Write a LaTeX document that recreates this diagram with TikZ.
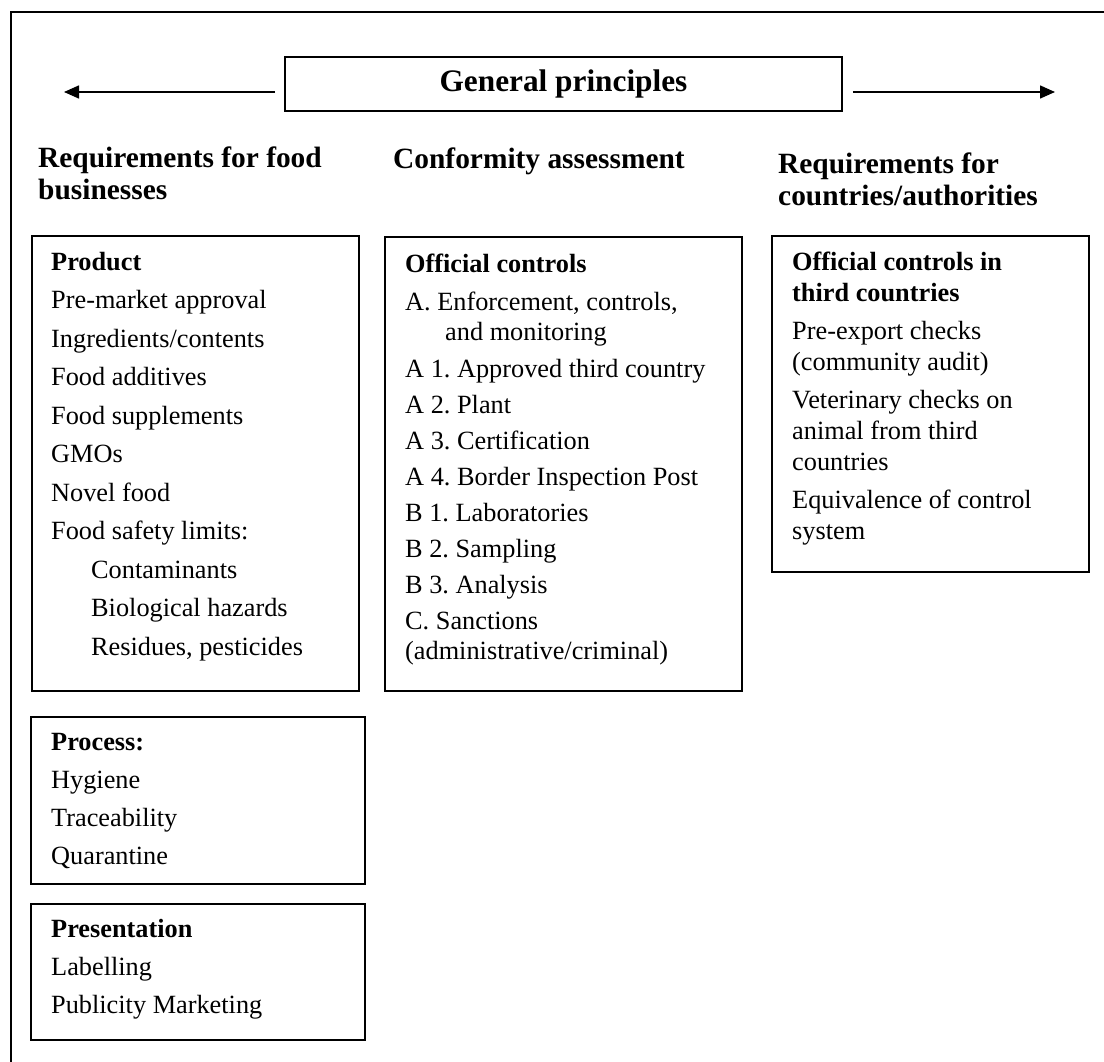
\documentclass[tikz,border=0pt]{standalone}
\usepackage{fontspec}
\setmainfont{Liberation Serif}
\usetikzlibrary{arrows.meta}
\begin{document}
\frenchspacing
\begin{tikzpicture}[x=1pt,y=-1pt,
  txt/.style={anchor=base west, inner sep=0pt, font=\fontsize{26.3}{30}\selectfont},
  ttl/.style={anchor=base west, inner sep=0pt, font=\fontsize{26.3}{30}\selectfont\bfseries},
  hd/.style={anchor=base west, inner sep=0pt, font=\fontsize{29.4}{32}\selectfont\bfseries},
  box/.style={draw, line width=1.6pt, anchor=north west, inner sep=0pt},
  arr/.style={line width=1.5pt, -{Triangle[length=15pt,width=13pt]}}]
\useasboundingbox (0,0) rectangle (1104,1062);
% outer frame
\draw[line width=1.6pt] (11,1062) -- (11,12) -- (1104,12);
% title
\node[draw, line width=1.6pt, minimum width=557pt, minimum height=54pt, inner sep=0pt,
  font=\fontsize{31.3}{32}\selectfont\bfseries] (gp) at (563.5,84) {General principles};
\coordinate (la) at (64,92);
\coordinate (ra) at (1055,92);
\draw[arr, shorten <=9pt] (gp.west |- la) -- (la);
\draw[arr, shorten <=10pt] (gp.east |- ra) -- (ra);
% headings
\node[hd] (h1a) at (38,168) {Requirements for food};
\node[hd] (h1b) at (38,200) {businesses};
\node[hd] (h2) at (393,169) {Conformity assessment};
\node[hd] (h3a) at (778,174) {Requirements for};
\node[hd] (h3b) at (778,206) {countries/authorities};
% product box
\node[box, minimum width=327pt, minimum height=455pt] (prodbox) at (31,235) {};
\node[ttl] (prodt) at (51,270) {Product};
\foreach \t [count=\i] in {Pre-market approval, Ingredients/contents, Food additives, Food supplements, GMOs, Novel food, Food safety limits:}
  \node[txt] (prod\i) at (51,{270+38.5*\i}) {\t};
\foreach \t [count=\i from 8] in {Contaminants, Biological hazards, {Residues, pesticides}}
  \node[txt] (prod\i) at (91,{270+38.5*\i}) {\t};
% process box
\node[box, minimum width=334pt, minimum height=167pt] (procbox) at (30,716) {};
\node[ttl] (proct) at (51,750) {Process:};
\node[txt] (proc1) at (51,788) {Hygiene};
\node[txt] (proc2) at (51,826) {Traceability};
\node[txt] (proc3) at (51,864) {Quarantine};
% presentation box
\node[box, minimum width=334pt, minimum height=136pt] (presbox) at (30,903) {};
\node[ttl] (prest) at (51,937) {Presentation};
\node[txt] (pres1) at (51,975) {Labelling};
\node[txt] (pres2) at (51,1013) {Publicity Marketing};
% middle box
\node[box, minimum width=357pt, minimum height=454pt] (midbox) at (384,236) {};
\node[ttl] (midt) at (405,272) {Official controls};
\node[txt] (mid1) at (405,310) {A. Enforcement, controls,};
\node[txt] (mid1b) at (445,340) {and monitoring};
\node[txt] (mid2) at (405,377) {A 1. Approved third country};
\node[txt] (mid3) at (405,413) {A 2. Plant};
\node[txt] (mid4) at (405,449) {A 3. Certification};
\node[txt] (mid5) at (405,485) {A 4. Border Inspection Post};
\node[txt] (mid6) at (405,521) {B 1. Laboratories};
\node[txt] (mid7) at (405,557) {B 2. Sampling};
\node[txt] (mid8) at (405,593) {B 3. Analysis};
\node[txt] (mid9) at (405,629) {C. Sanctions};
\node[txt] (mid9b) at (405,659) {(administrative/criminal)};
% right box
\node[box, minimum width=317pt, minimum height=336pt] (rbox) at (771,235) {};
\node[ttl] (rt1) at (792,270) {Official controls in};
\node[ttl] (rt2) at (792,301) {third countries};
\node[txt] (r1) at (792,339) {Pre-export checks};
\node[txt] (r1b) at (792,370) {(community audit)};
\node[txt] (r2) at (792,408) {Veterinary checks on};
\node[txt] (r2b) at (792,439) {animal from third};
\node[txt] (r2c) at (792,470) {countries};
\node[txt] (r3) at (792,508) {Equivalence of control};
\node[txt] (r3b) at (792,539) {system};
\end{tikzpicture}
\end{document}
